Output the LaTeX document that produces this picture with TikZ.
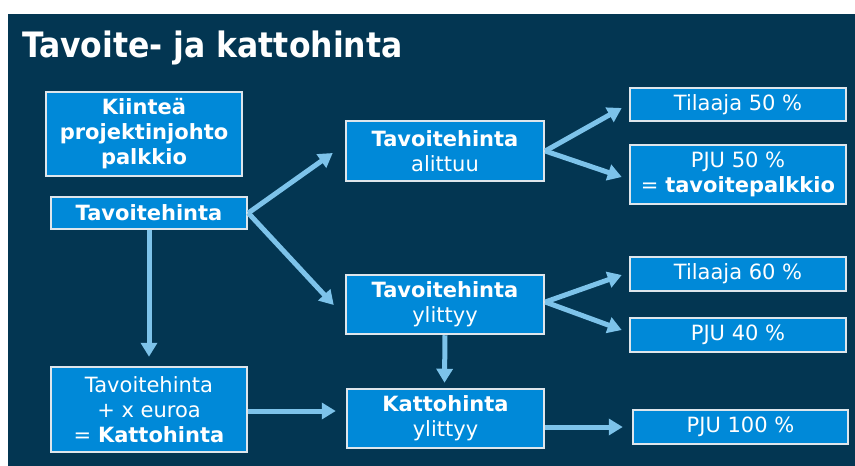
\documentclass[tikz,border=0pt]{standalone}
\usepackage{fontspec}
\setmainfont{DejaVu Sans}
\newfontfamily\titlefont{DejaVu Sans Condensed}
\usetikzlibrary{arrows.meta,calc}
\definecolor{navy}{RGB}{3,54,82}
\definecolor{boxblue}{RGB}{0,137,216}
\definecolor{boxline}{RGB}{222,230,236}
\definecolor{arrowblue}{RGB}{125,195,234}
\begin{document}
\begin{tikzpicture}[x=1pt,y=-1pt,
  box/.style={draw=boxline, line width=2.5pt, fill=boxblue, text=white, inner sep=0pt,
    align=center, font=\fontsize{21}{25}\selectfont},
  arr/.style={draw=arrowblue, line width=5pt, -{Triangle[length=14pt,width=16pt]}}]
\useasboundingbox (0,0) rectangle (855,466);
\fill[white] (0,0) rectangle (855,466);
\fill[navy] (8,14) rectangle (855,466);
\node[anchor=base west, text=white, inner sep=0pt, font=\titlefont\fontsize{35}{41}\selectfont\bfseries] (title) at (22,57) {Tavoite- ja kattohinta};

\node[box, minimum width=196pt, minimum height=84pt] (kiint) at (144,134) {\textbf{Kiinteä}\\\textbf{projektinjohto}\\\textbf{palkkio}};
\node[box, minimum width=196pt, minimum height=32pt] (tav) at (149,213) {\textbf{Tavoitehinta}};
\node[box, minimum width=196pt, minimum height=85pt] (katto) at (149,409.5) {Tavoitehinta\\+ x euroa\\= \textbf{Kattohinta}};

\node[box, minimum width=198pt, minimum height=60pt] (alit) at (445,151) {\textbf{Tavoitehinta}\\alittuu};
\node[box, minimum width=198pt, minimum height=59pt] (ylit) at (445,304.5) {\textbf{Tavoitehinta}\\ylittyy};
\node[box, minimum width=197pt, minimum height=59pt] (kylit) at (445.5,418.5) {\textbf{Kattohinta}\\ylittyy};

\node[box, minimum width=216pt, minimum height=33pt] (t50) at (738,104.5) {Tilaaja 50 \%};
\node[box, minimum width=216pt, minimum height=59pt] (p50) at (738,174.5) {PJU 50 \%\\= \textbf{tavoitepalkkio}};
\node[box, minimum width=216pt, minimum height=34pt] (t60) at (738,274) {Tilaaja 60 \%};
\node[box, minimum width=216pt, minimum height=34pt] (p40) at (738,335) {PJU 40 \%};
\node[box, minimum width=215pt, minimum height=34pt] (p100) at (740.5,427) {PJU 100 \%};

\draw[arr] (tav.east) -- ($(alit.west)+(-12,2)$);
\draw[arr] (tav.east) -- ($(ylit.west)+(-11,0.5)$);
\draw[arr] (tav.south) -- ($(katto.north)+(0,-9)$);
\draw[arr] ($(katto.east)+(0,1.5)$) -- ($(katto.east -| kylit.west)+(-10,1.5)$);

\draw[arr] (alit.east) -- ($(t50.west)+(-7,3.5)$);
\draw[arr] (alit.east) -- ($(p50.west)+(-7,2.5)$);
\draw[arr] ($(ylit.east)+(0,-2.5)$) -- ($(t60.west)+(-7,1)$);
\draw[arr] ($(ylit.east)+(0,-2.5)$) -- ($(p40.west)+(-7,-5)$);
\draw[arr] (ylit.south) -- ($(kylit.north)+(-1,-5)$);
\draw[arr] ($(kylit.east)+(0,8.5)$) -- ($(p100.west)+(-9,0)$);
\end{tikzpicture}
\end{document}
